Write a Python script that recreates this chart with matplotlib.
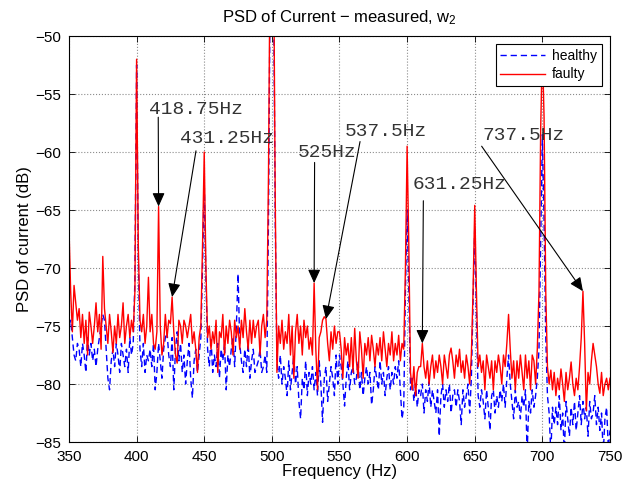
import numpy as np
import matplotlib
matplotlib.use('Agg')
import matplotlib.pyplot as plt

plt.rcParams['font.family'] = ['Liberation Sans', 'DejaVu Sans']
plt.rcParams['mathtext.fontset'] = 'custom'
plt.rcParams['mathtext.rm'] = 'Liberation Sans'
plt.rcParams['mathtext.it'] = 'Liberation Sans'
plt.rcParams['mathtext.default'] = 'regular'

# frequency grid (Hz), 1.25 Hz bins
freq = np.arange(350.0, 750.0 + 0.625, 1.25)

# PSD, faulty machine (dB), 16 bins per row = 20 Hz
faulty = [
    -66.5, -72.0, -75.5, -71.5, -73.0, -74.5, -73.5, -76.0, -74.0, -76.5, -74.5, -77.5, -73.8, -75.0, -76.5, -75.0,
    -73.0, -75.5, -74.0, -77.0, -69.0, -73.5, -75.0, -76.5, -74.0, -75.5, -77.3, -75.0, -76.5, -74.0, -76.0, -75.0,
    -73.0, -76.5, -75.0, -74.0, -76.0, -74.5, -75.5, -72.0, -52.0, -68.0, -74.5, -75.5, -74.0, -76.5, -75.0, -70.8,
    -75.5, -74.0, -76.5, -77.0, -75.5, -64.7, -75.0, -77.5, -76.5, -74.0, -76.0, -74.5, -74.8, -72.5, -75.5, -77.5,
    -78.2, -74.5, -75.0, -76.5, -74.5, -75.0, -76.0, -75.0, -74.0, -76.5, -75.5, -77.0, -79.0, -76.0, -75.0, -68.0,
    -60.0, -70.0, -76.0, -75.0, -77.0, -75.5, -76.5, -74.5, -79.0, -75.5, -76.0, -74.0, -77.5, -75.0, -76.5, -74.5,
    -75.5, -77.5, -74.5, -76.0, -75.0, -77.0, -74.5, -76.0, -73.5, -75.5, -77.0, -74.5, -76.5, -74.5, -76.0, -75.0,
    -74.5, -77.5, -75.0, -74.0, -76.0, -74.5, -62.0, -42.0, -25.0, -42.0, -64.0, -79.0, -75.0, -76.5, -74.5, -77.0,
    -75.5, -76.5, -74.0, -77.5, -75.0, -79.5, -75.5, -74.0, -76.5, -75.0, -77.5, -74.5, -76.0, -75.0, -77.0, -76.0,
    -77.5, -71.3, -77.0, -80.5, -76.0, -75.5, -74.5, -74.2, -74.4, -76.5, -78.0, -75.5, -77.0, -75.0, -76.5, -75.5,
    -75.5, -77.0, -79.5, -76.0, -77.5, -76.5, -78.5, -76.0, -79.0, -75.2, -78.0, -79.5, -75.5, -77.0, -79.5, -76.5,
    -77.5, -76.0, -78.0, -75.8, -77.0, -78.5, -76.5, -77.5, -76.0, -78.0, -75.5, -77.0, -78.5, -76.5, -77.5, -75.5,
    -78.0, -76.5, -77.5, -75.8, -78.0, -76.5, -77.0, -70.0, -59.5, -68.0, -79.0, -80.5, -78.5, -81.0, -79.0, -78.5,
    -78.5, -76.5, -78.5, -79.5, -78.0, -80.0, -78.5, -77.5, -79.5, -78.0, -79.0, -77.5, -78.5, -80.0, -77.5, -78.5,
    -79.5, -77.5, -76.9, -78.0, -79.5, -77.5, -78.5, -77.0, -79.0, -78.0, -79.5, -77.5, -78.5, -80.0, -77.5, -72.0,
    -64.6, -72.0, -78.5, -77.5, -79.0, -78.0, -80.5, -77.5, -78.5, -79.5, -78.0, -80.5, -78.0, -79.0, -77.5, -78.5,
    -80.0, -77.5, -78.5, -76.5, -74.0, -77.0, -79.5, -78.0, -80.5, -78.0, -79.5, -77.5, -79.0, -80.5, -77.5, -79.5,
    -78.0, -80.5, -77.5, -78.0, -80.0, -77.0, -72.0, -58.0, -51.0, -57.0, -72.0, -78.5, -80.0, -78.8, -80.5, -79.0,
    -81.0, -79.5, -80.5, -78.7, -80.0, -81.5, -79.0, -80.5, -79.5, -78.1, -80.0, -81.0, -79.5, -80.5, -78.5, -76.0,
    -72.0, -76.5, -82.3, -79.0, -80.0, -78.0, -76.5, -77.5, -78.5, -80.0, -80.8, -79.0, -81.0, -80.0, -79.5, -80.5,
    -79.5,
]

# PSD, healthy machine (dB)
healthy = [
    -75.0, -74.5, -76.0, -77.5, -78.0, -76.5, -77.0, -78.5, -76.5, -77.5, -79.0, -76.0, -77.5, -76.5, -78.0, -77.0,
    -78.5, -77.0, -76.0, -75.0, -74.0, -74.5, -77.0, -79.5, -80.5, -78.0, -77.0, -78.5, -76.5, -77.5, -79.0, -76.5,
    -77.5, -78.5, -77.0, -79.0, -76.0, -77.5, -76.5, -71.0, -52.5, -69.0, -77.0, -78.5, -76.5, -79.0, -77.5, -78.0,
    -77.0, -78.5, -76.5, -80.5, -79.0, -76.5, -78.0, -79.5, -77.0, -76.0, -75.5, -77.5, -78.5, -76.0, -80.5, -77.0,
    -75.5, -78.0, -76.5, -79.0, -77.5, -80.0, -78.0, -76.5, -79.5, -81.2, -78.0, -77.0, -79.0, -77.5, -76.0, -70.0,
    -62.5, -71.0, -77.0, -78.5, -76.0, -79.0, -77.5, -78.5, -76.5, -79.5, -77.0, -78.0, -76.5, -80.5, -77.5, -78.5,
    -77.0, -76.0, -78.5, -75.0, -70.5, -76.5, -78.0, -79.0, -77.0, -78.5, -76.5, -79.5, -78.0, -77.0, -79.0, -78.5,
    -78.0, -77.0, -79.0, -78.5, -77.5, -79.0, -66.0, -45.0, -28.0, -45.0, -66.0, -78.0, -79.5, -77.5, -80.0, -78.5,
    -79.5, -81.0, -78.0, -80.5, -79.0, -77.5, -80.0, -78.5, -81.5, -83.0, -79.5, -80.5, -78.0, -81.0, -79.0, -80.0,
    -78.5, -80.5, -79.0, -81.0, -78.0, -80.0, -83.3, -79.5, -78.5, -81.5, -80.0, -78.5, -79.5, -81.0, -77.5, -80.0,
    -77.5, -78.5, -80.0, -81.9, -79.5, -78.0, -80.5, -79.0, -78.5, -80.0, -79.5, -78.0, -80.5, -79.0, -81.0, -79.5,
    -78.5, -80.0, -79.0, -81.8, -80.5, -78.5, -79.5, -80.5, -78.0, -80.0, -79.0, -81.0, -79.5, -78.5, -80.5, -79.0,
    -80.0, -78.5, -79.5, -78.0, -80.5, -83.0, -82.0, -72.0, -65.0, -72.0, -80.5, -79.5, -81.5, -80.0, -82.0, -80.5,
    -81.0, -80.0, -82.5, -80.5, -81.5, -79.8, -82.0, -80.5, -81.5, -82.5, -80.5, -84.5, -81.0, -80.0, -82.0, -80.5,
    -81.5, -80.0, -82.5, -81.0, -80.5, -82.0, -80.5, -81.5, -83.5, -80.5, -82.0, -81.0, -80.0, -82.5, -79.5, -73.0,
    -66.5, -74.0, -81.0, -82.0, -80.5, -81.5, -83.0, -80.5, -82.0, -84.0, -81.0, -80.5, -82.5, -81.0, -82.0, -80.5,
    -81.5, -80.0, -82.0, -79.5, -77.5, -80.0, -81.5, -83.0, -80.5, -82.0, -81.5, -83.0, -81.0, -82.0, -80.5, -86.0,
    -81.5, -82.5, -80.5, -82.0, -81.0, -79.5, -77.0, -68.0, -58.5, -66.0, -76.0, -81.0, -82.5, -86.0, -82.0, -83.5,
    -82.0, -83.5, -81.0, -84.0, -82.5, -86.0, -81.5, -83.0, -84.5, -82.0, -83.5, -81.5, -84.0, -82.5, -81.0, -83.5,
    -81.5, -83.0, -82.0, -84.5, -81.5, -83.0, -82.5, -81.0, -83.5, -82.0, -84.0, -82.5, -86.0, -83.0, -82.0, -85.5,
    -84.0,
]

# annotations: label, peak frequency pointed at, arrow tail (Hz, dB), text left/centre (Hz, dB)
ann_labels = ['418.75Hz', '431.25Hz', '525Hz', '537.5Hz', '631.25Hz', '737.5Hz']
ann_tip_freq = [416.25, 426.25, 531.25, 540.0, 611.25, 730.0]
ann_tail = [(416.0, -57.0), (443.9, -59.9), (531.6, -60.9), (565.2, -59.1), (612.0, -64.2), (655.1, -59.5)]
ann_text = [(409.5, -56.3), (432.0, -58.8), (518.8, -60.0), (554.0, -58.2), (604.0, -62.8), (656.0, -58.6)]

assert len(faulty) == len(freq) and len(healthy) == len(freq)

fig = plt.figure(figsize=(6.44, 4.86), dpi=100)
ax = fig.add_axes([0.1071, 0.0905, 0.8401, 0.8354])

ax.plot(freq, healthy, color='#0000ff', lw=1.0, dashes=(4.5, 2.8), label='healthy')
ax.plot(freq, faulty, '-', color='#ff0000', lw=1.0, label='faulty')

ax.set_xlim(350, 750)
ax.set_ylim(-85, -50)
ax.set_xticks(np.arange(350, 751, 50))
ax.set_yticks(np.arange(-85, -49, 5))
ax.tick_params(direction='in', top=True, right=True, labelsize=11, length=4, width=0.6)
ax.tick_params(axis='x', pad=6)
ax.tick_params(axis='y', pad=6)
ax.grid(True, linestyle=':', color='0.55', lw=0.8)
for s in ax.spines.values():
    s.set_linewidth(0.8)

ax.set_xlabel('Frequency (Hz)', fontsize=12, labelpad=0)
ax.set_ylabel('PSD of current (dB)', fontsize=12, labelpad=2)
ax.set_title('PSD of Current \u2212 measured, w$_2$', fontsize=12, pad=10)

for lab, tf, tail, txt in zip(ann_labels, ann_tip_freq, ann_tail, ann_text):
    i = int(np.argmin(np.abs(freq - tf)))
    ax.annotate('', xy=(freq[i], faulty[i]), xytext=tail,
                arrowprops=dict(arrowstyle='-|>,head_length=0.55,head_width=0.25',
                                color='black', lw=0.8, mutation_scale=15,
                                shrinkA=0, shrinkB=0))
    ax.text(txt[0], txt[1], lab, family='Liberation Mono', fontsize=14,
            color='#333333', ha='left', va='center')

leg = ax.legend(loc='upper right', fontsize=10, handlelength=3.2,
                fancybox=False, edgecolor='black', framealpha=1,
                borderpad=0.35, labelspacing=0.3, handletextpad=0.5,
                borderaxespad=0.6)
leg.get_frame().set_linewidth(0.8)

plt.savefig('out.png', dpi=100)
